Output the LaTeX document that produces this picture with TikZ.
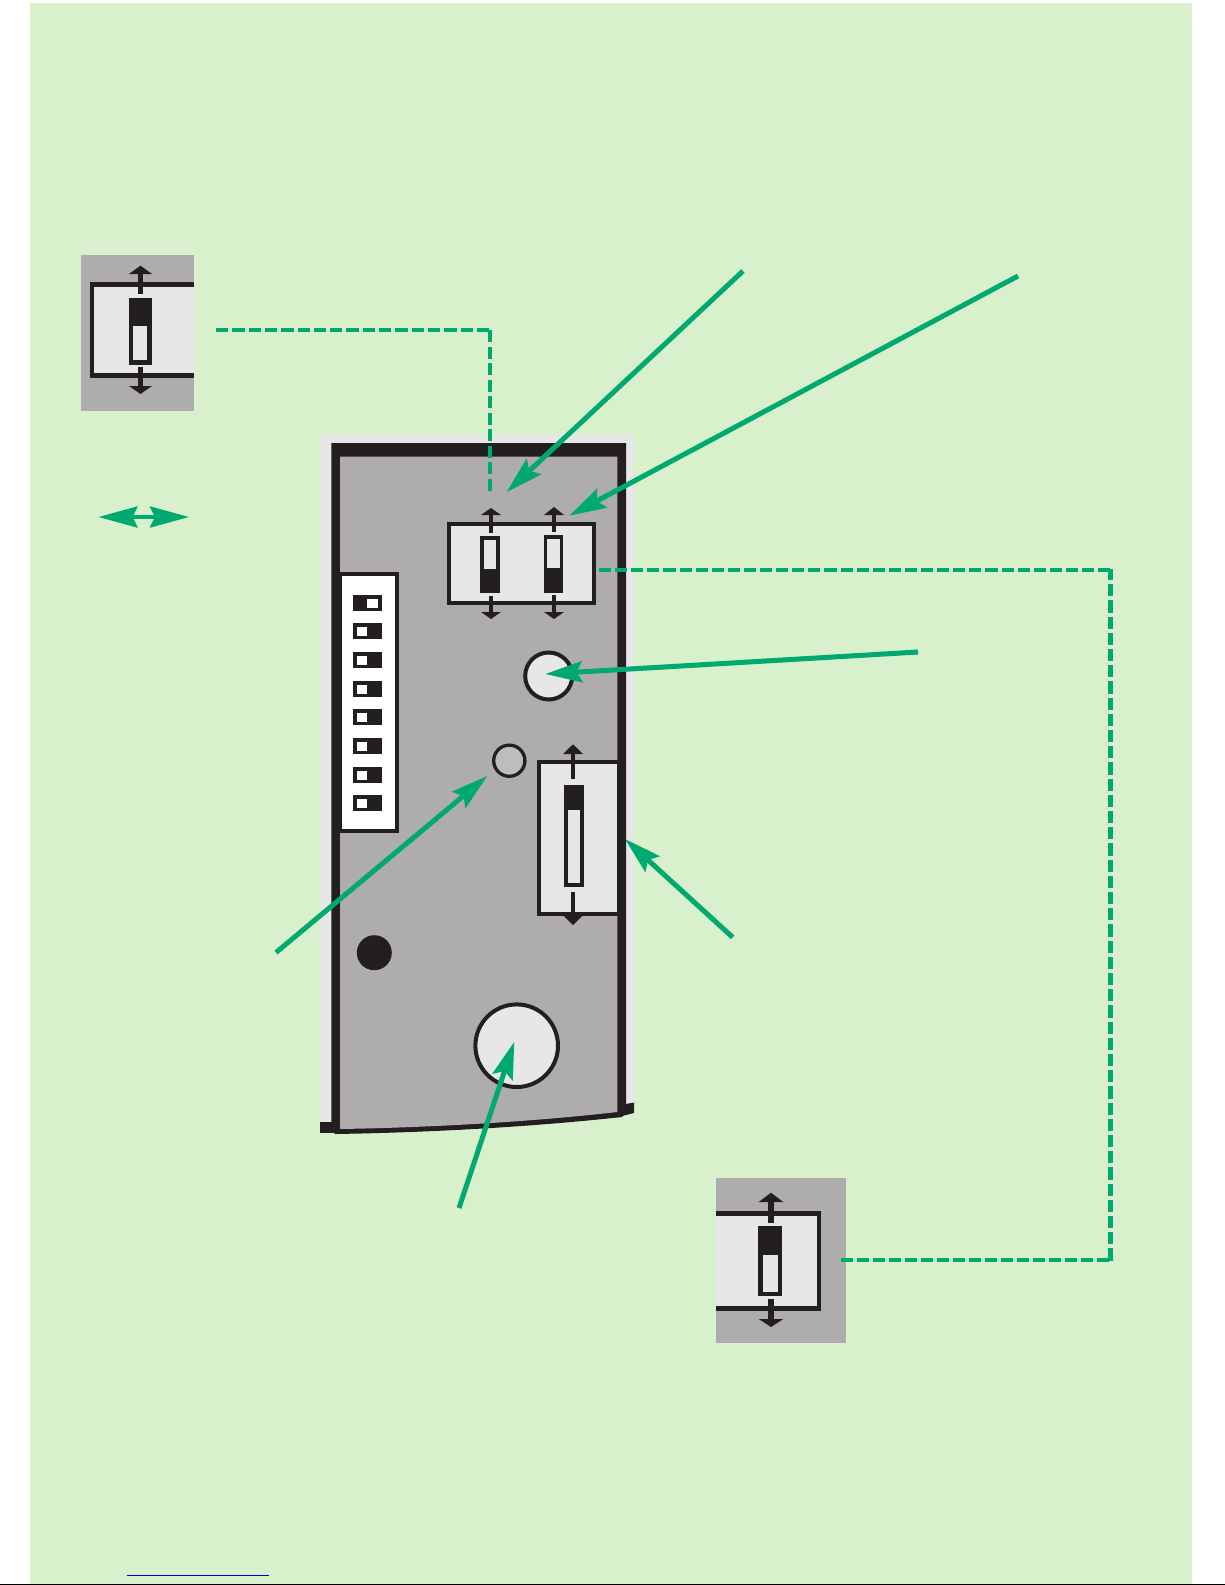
\documentclass[tikz,border=0pt]{standalone}
\usetikzlibrary{arrows.meta}
\definecolor{bgreen}{HTML}{D9F0CD}
\definecolor{lead}{HTML}{00A96F}
\definecolor{ink}{HTML}{231F20}
\definecolor{panel}{HTML}{AEACAD}
\definecolor{pale}{HTML}{E7E7E7}
\definecolor{pin}{HTML}{BDBDBD}
\definecolor{linkblue}{HTML}{0000E0}
\tikzset{
  callout/.style={draw=lead,line width=2.5pt,-{Stealth[length=18.5pt,width=10.5pt,inset=3pt]}},
  twoway/.style={draw=lead,line width=2pt,{Stealth[length=19.5pt,width=10.5pt,inset=2.5pt]}-{Stealth[length=19.5pt,width=10.5pt,inset=2.5pt]}},
  leader/.style={draw=lead,line width=2.25pt,dash pattern=on 6pt off 2pt},
}
\tikzset{dialnode/.style={circle,draw=ink,fill=pale,inner sep=0pt,line width=2pt}}
% filled rectangle helper
\newcommand{\blk}[5]{\fill[#1] (#2,#3) rectangle (#4,#5);}
% switch body: black outer, pale window
\newcommand{\slider}[8]{\blk{ink}{#1}{#2}{#3}{#4}\blk{pale}{#5}{#6}{#7}{#8}}
% vertical arrow glyph: cx, shaft start, base, tip, half width, half shaft
\newcommand{\vtip}[6]{\blk{ink}{#1-#6}{#2}{#1+#6}{#3}\fill[ink] (#1-#5,#3) -- (#1+#5,#3) -- (#1,#4) -- cycle;}
\begin{document}
\begin{tikzpicture}[x=0.5pt,y=-0.5pt]
\useasboundingbox (0,0) rectangle (1225,1585);
\fill[white] (0,0) rectangle (1225,1585);
\fill[bgreen] (30,3) rectangle (1192,1584);
\fill[black] (0,1584) rectangle (1225,1585);
\fill[linkblue] (127,1575) rectangle (269,1576);

% --- top-left inset
\blk{panel}{80.5}{255}{194}{411}
\blk{ink}{90}{282}{194}{378}
\blk{pale}{94}{287}{194}{373}
\slider{129}{298}{152}{365}{133}{326}{147}{360}
\vtip{140.5}{294}{274}{265.7}{11.5}{2.5}
\vtip{140.5}{367}{386}{394}{11.5}{2.5}

% --- bottom-right inset
\blk{panel}{715.5}{1178}{846}{1342.7}
\blk{ink}{715.5}{1211}{821}{1311}
\blk{pale}{715.5}{1216}{817}{1306}
\slider{758}{1226}{782}{1296}{763}{1255}{778.3}{1292}
\vtip{771}{1223}{1202}{1192.7}{12.3}{3}
\vtip{771}{1299}{1319}{1327}{12.3}{3}

% --- panel
\fill[pale] (320,434) rectangle (634,443);
\fill[pale] (320,434) rectangle (331.5,1122);
\fill[pale] (626,434) rectangle (634,1104);
\fill[ink] (320,1122) rectangle (335,1133);
\fill[ink] (620,1105) -- (634,1102.5) -- (634,1113) -- (622,1116) -- cycle;
\fill[ink] (331.3,443) -- (626,443) -- (626,1112) -- (622,1117)
  .. controls (530,1127) and (430,1132.5) .. (335,1134) -- (331.3,1130) -- cycle;
\fill[panel] (340,456.7) -- (617.3,456.7) -- (617.3,1112)
  .. controls (530,1122) and (430,1127.5) .. (340,1129) -- cycle;

% --- DIP block
\blk{ink}{340}{572}{399}{832.7}
\blk{white}{342}{576}{395}{828.7}
\foreach \t/\wa/\wb in {595/367/378,623/357/367,652/357/367,681/357/367,709/357/367,738/357/367,767/357/367,795/357/367}{
  \blk{ink}{353}{\t}{382}{\t+16}
  \blk{white}{\wa}{\t+4}{\wb}{\t+12.5}
}

% --- two-switch box
\blk{ink}{447}{522}{596}{605}
\blk{pale}{451}{526}{592}{601}
\slider{480}{536}{500}{593}{484}{540}{496}{569}
\slider{544}{535}{563}{593}{547}{539}{560}{568}
\vtip{491}{533}{515}{508}{10}{2}
\vtip{491}{596}{612}{619}{10}{2}
\vtip{554}{532}{515}{507}{10}{2}
\vtip{554}{595}{612}{619}{10}{2}

% --- tall switch box
\blk{ink}{537}{760}{617.5}{915.7}
\blk{pale}{541}{764}{617}{912}
\slider{564}{785}{584}{887}{568}{810}{580}{883}
\vtip{573}{779}{754}{744.3}{10}{1.8}
\vtip{573}{892}{915}{925}{10}{1.8}

% --- round parts
\node[dialnode,minimum size=23.5pt] (knob) at (548.7,676) {};
\node[dialnode,fill=pin,minimum size=15.6pt,line width=1.65pt] (led) at (509.3,760.7) {};
\node[circle,fill=ink,inner sep=0pt,minimum size=17.5pt] (screw) at (374.3,952.7) {};
\node[dialnode,minimum size=41.3pt] (dial) at (516.7,1045.7) {};

% --- connector end points
\coordinate (inA) at (216,330);
\coordinate (inAk) at (490,330);
\coordinate (inAv) at (490,330);
\coordinate (inAe) at (490,491);
\coordinate (inB) at (841,1260);
\coordinate (inBk) at (1113,1260);
\coordinate (inBv) at (1110.5,1262);
\coordinate (inBu) at (1110.5,569);
\coordinate (inBt) at (1113,570);
\coordinate (inBe) at (599,570);
\coordinate (a1s) at (743,271);   \coordinate (a1e) at (506.7,492);
\coordinate (a2s) at (1018,276);  \coordinate (a2e) at (569.3,515.7);
\coordinate (a3s) at (918,652);   \coordinate (a3e) at (545.3,674);
\coordinate (a4s) at (276,952.5); \coordinate (a4e) at (487.3,776);
\coordinate (a5s) at (732.7,937.3);   \coordinate (a5e) at (625,839);
\coordinate (a6s) at (459,1208);  \coordinate (a6e) at (514.3,1041.7);
\coordinate (tw1) at (98.5,517);  \coordinate (tw2) at (189,517);

% --- connectors
\draw[leader,dash pattern=on 6.15pt off 2pt] (inA) -- (inAk);
\draw[leader,dash pattern=on 6.15pt off 2.1pt] (inAv) -- (inAe);
\draw[leader] (inB) -- (inBk);
\draw[leader,line width=2.5pt,dash pattern=on 6.1pt off 2pt,dash phase=0.5pt] (inBu) -- (inBv);
\draw[leader,dash pattern=on 6.05pt off 2pt] (inBe) -- (inBt);
\draw[callout] (a1s) -- (a1e);
\draw[callout] (a2s) -- (a2e);
\draw[callout] (a3s) -- (a3e);
\draw[callout] (a4s) -- (a4e);
\draw[callout] (a5s) -- (a5e);
\draw[callout] (a6s) -- (a6e);
\draw[twoway] (tw1) -- (tw2);
\end{tikzpicture}
\end{document}
